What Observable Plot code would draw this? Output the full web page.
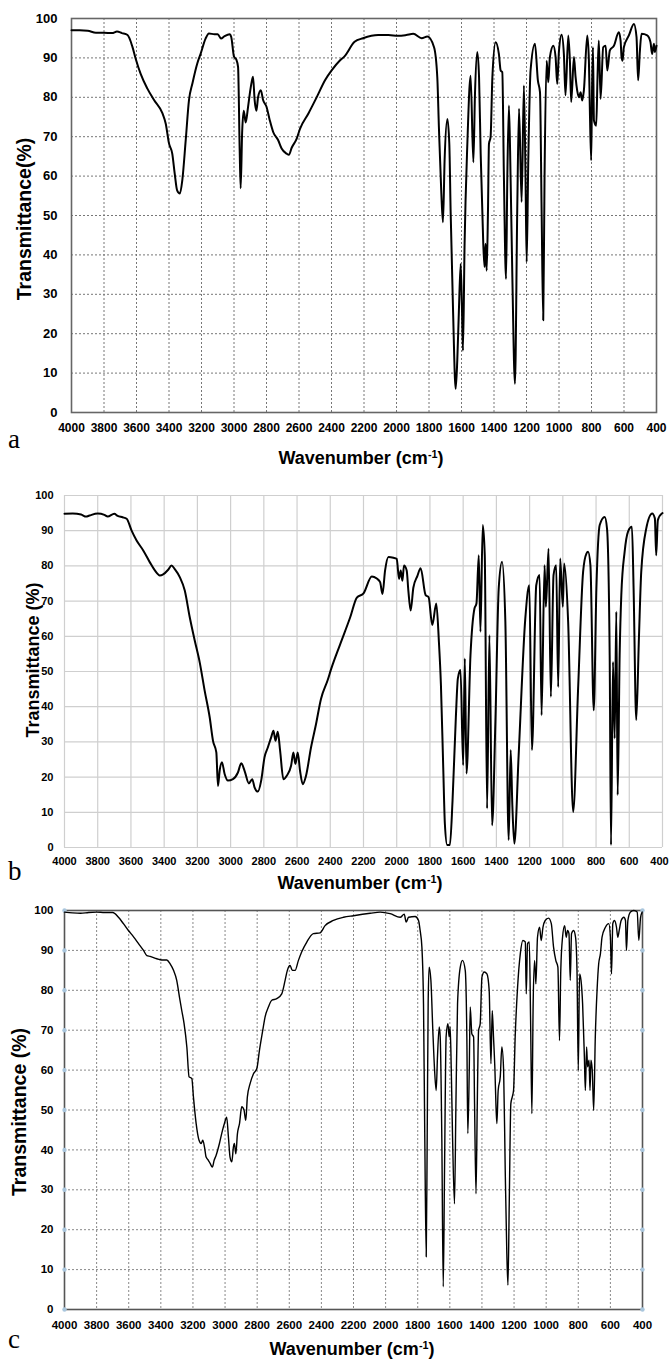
<!DOCTYPE html>
<html>
<head>
<meta charset="utf-8">
<script src="https://cdn.jsdelivr.net/npm/d3@7"></script>
<script src="https://cdn.jsdelivr.net/npm/@observablehq/plot@0.6"></script>
<style>
  html, body { margin: 0; padding: 0; background: #fff; }
  #root { position: relative; width: 670px; height: 1361px; background: #fff; overflow: hidden; }
  .panel { position: absolute; left: 0; }
  .letter { position: absolute; font-family: "Liberation Serif", "Times New Roman", serif; font-size: 27px; line-height: 1; color: #000; }
  .xtitle { position: absolute; font-family: "Liberation Sans", Arial, sans-serif; font-weight: bold; font-size: 18px; line-height: 1; white-space: nowrap; transform: translateX(-50%); color: #000; }
  .xtitle sup { font-size: 0.6em; vertical-align: 0.6em; line-height: 0; }
  .ytitle { position: absolute; font-family: "Liberation Sans", Arial, sans-serif; font-weight: bold; line-height: 1; white-space: nowrap; transform: translate(-50%, -50%) rotate(-90deg); color: #000; }
</style>
</head>
<body>
<div id="root"></div>
<script>
// ---------- tick values ----------
const xTicks = [4000, 3800, 3600, 3400, 3200, 3000, 2800, 2600, 2400, 2200, 2000, 1800, 1600, 1400, 1200, 1000, 800, 600, 400];
const yTicks = [0, 10, 20, 30, 40, 50, 60, 70, 80, 90, 100];

// ---------- spectrum a ----------
const wnA = [4000,3950,3900,3850,3800,3750,3720,3690,3655,3625,3605,3575,3533,3492,3440,3420,3400,3380,3365,3350,3333,3318,3297,3277,3256,3226,3205,3175,3154,3120,3100,3080,3058,3027,3017,3000,2986,2975,2965,2959,2950,2940,2928,2914,2897,2883,2873,2862,2852,2835,2821,2800,2780,2759,2728,2707,2676,2662,2645,2614,2594,2542,2490,2439,2398,2347,2320,2258,2206,2113,2050,1990,1940,1897,1845,1810,1769,1749,1739,1724,1714,1704,1687,1675,1667,1652,1636,1626,1616,1605,1597,1591,1581,1564,1544,1527,1517,1503,1492,1482,1466,1458,1452,1445,1437,1431,1421,1410,1390,1370,1359,1349,1339,1326,1318,1308,1298,1287,1271,1257,1246,1230,1216,1206,1199,1189,1175,1148,1130,1117,1107,1097,1089,1076,1066,1056,1035,1021,1011,1000,984,970,960,943,933,925,908,898,888,877,867,857,847,826,816,810,802,797,791,785,771,763,755,744,728,713,703,687,662,632,621,615,609,601,570,539,523,513,502,492,457,437,427,416,410,400];
const tA = [97.0,97.0,96.9,96.4,96.4,96.3,96.7,96.3,95.8,92.8,89.8,86.0,82.2,79.3,75.9,73.3,68.3,65.7,60.7,56.4,55.6,59.0,69.2,79.3,83.5,88.6,91.1,94.9,96.2,96.0,96.0,94.9,95.5,96.0,95.3,90.3,89.6,87.7,66.5,56.9,71.0,76.6,73.6,77.4,82.5,85.2,79.3,76.6,80.0,81.8,79.3,77.6,74.2,71.2,69.1,67.0,65.7,65.4,67.2,69.5,72.0,75.9,80.1,84.4,86.9,89.4,90.4,94.1,95.0,95.8,95.8,95.6,95.8,96.1,95.0,95.4,92.7,85.1,72.4,55.5,48.3,64.0,74.5,68.2,51.3,25.9,6.0,13.2,25.9,37.7,25.9,15.7,42.8,68.2,85.5,63.5,80.9,91.5,85.1,65.7,42.8,36.9,42.8,36.0,51.3,68.2,69.9,85.1,94.0,91.0,86.8,86.4,59.7,33.9,59.7,77.9,59.7,34.3,7.3,51.3,77.1,53.4,83.0,59.7,38.2,64.0,86.8,93.6,84.3,81.3,51.3,23.4,59.7,89.3,83.8,90.2,93.1,90.2,83.4,91.9,95.9,91.0,80.5,95.7,89.3,78.8,90.2,85.1,81.7,80.0,81.3,79.2,81.7,95.7,89.3,76.6,64.0,80.9,92.7,74.1,72.8,85.1,94.4,79.6,92.7,93.1,86.8,91.9,93.1,96.5,94.4,90.2,89.3,92.7,95.7,98.6,95.3,84.3,91.9,96.1,95.7,94.0,91.0,93.6,91.5,93.1];

// ---------- spectrum b ----------
const wnB = [4000,3950,3900,3870,3850,3800,3760,3740,3700,3680,3650,3626,3596,3566,3526,3486,3456,3426,3406,3376,3356,3336,3306,3276,3246,3216,3186,3156,3126,3106,3086,3076,3066,3052,3036,3016,2986,2956,2936,2916,2890,2870,2856,2836,2816,2796,2776,2756,2742,2730,2716,2702,2682,2662,2636,2622,2610,2596,2582,2566,2546,2516,2486,2456,2416,2394,2340,2280,2240,2200,2150,2120,2100,2086,2070,2050,2020,2000,1986,1976,1966,1956,1940,1930,1916,1900,1876,1856,1826,1808,1786,1762,1746,1734,1720,1710,1696,1680,1664,1644,1632,1616,1600,1590,1580,1556,1532,1520,1506,1496,1482,1470,1456,1442,1426,1406,1386,1366,1346,1326,1314,1304,1292,1266,1226,1202,1186,1160,1140,1128,1110,1102,1086,1072,1056,1040,1028,1016,1000,992,968,938,908,878,858,848,834,814,798,778,748,734,718,710,698,688,678,670,658,648,628,608,584,574,558,542,528,498,462,446,438,428,404,400];
const tB = [94.8,94.9,94.6,94.0,94.3,94.9,94.5,94.0,94.8,94.2,93.8,93.4,90.0,87.2,84.4,81.0,78.7,77.3,77.6,78.9,80.1,79.1,76.8,73.0,65.4,58.8,52.6,44.5,37.0,30.3,27.0,17.5,21.8,24.2,20.9,19.0,19.4,21.3,23.9,21.8,18.2,19.4,17.1,15.9,19.0,25.6,28.4,31.3,33.2,30.3,32.9,27.5,19.4,20.4,23.2,27.0,23.7,27.0,21.8,18.0,20.4,28.4,35.0,42.2,47.5,50.8,57.8,65.4,71.0,72.2,77.0,76.4,75.4,72.0,78.7,82.5,82.3,82.0,76.3,78.7,75.8,80.1,78.7,73.0,67.3,73.8,77.1,79.3,71.7,71.1,63.2,69.3,58.4,46.4,22.7,6.6,0.7,0.7,13.3,37.0,48.0,50.4,23.4,53.7,21.0,54.6,67.9,69.3,83.0,61.3,91.6,83.0,11.1,60.3,6.3,35.7,73.6,81.2,64.1,2.1,27.7,12.0,1.1,26.2,65.0,74.5,27.7,74.5,77.4,37.6,80.2,68.4,84.9,42.8,77.4,80.2,45.6,82.1,68.4,80.7,64.1,10.1,45.2,78.3,83.5,84.0,80.2,39.0,73.6,91.6,93.9,90.6,54.6,0.7,52.7,31.0,67.0,14.9,54.6,71.7,84.0,89.7,91.1,73.6,36.2,59.4,78.3,90.6,94.9,93.5,83.0,93.0,94.9,95.0];

// ---------- spectrum c ----------
const wnC = [4000,3950,3900,3850,3800,3750,3700,3664,3633,3602,3570,3539,3508,3487,3467,3425,3394,3363,3342,3321,3301,3284,3270,3255,3238,3224,3207,3197,3180,3162,3149,3139,3128,3118,3104,3093,3079,3068,3056,3035,3016,3004,2990,2979,2969,2958,2948,2942,2933,2923,2910,2896,2882,2871,2861,2844,2823,2802,2786,2765,2751,2730,2709,2678,2647,2626,2612,2595,2581,2564,2543,2523,2491,2450,2408,2377,2325,2262,2200,2096,2034,1972,1909,1884,1872,1857,1816,1795,1785,1774,1764,1756,1747,1741,1735,1729,1718,1706,1695,1685,1677,1666,1660,1650,1641,1633,1623,1612,1604,1598,1591,1583,1571,1562,1552,1535,1521,1504,1494,1488,1479,1473,1463,1452,1446,1437,1429,1421,1411,1400,1386,1369,1355,1344,1336,1328,1319,1313,1307,1299,1286,1276,1265,1255,1245,1238,1230,1220,1211,1203,1193,1178,1161,1145,1130,1124,1116,1105,1097,1089,1081,1072,1064,1054,1041,1031,1020,1006,985,968,954,940,927,917,909,898,885,875,867,858,850,842,829,817,808,800,792,783,773,762,756,748,742,733,727,721,713,704,694,683,673,662,652,631,610,600,593,585,575,562,554,545,533,516,506,500,491,475,454,433,423,412,402];
const tC = [99.6,99.4,99.3,99.5,99.6,99.5,99.5,98.3,96.7,95.0,93.4,91.7,90.0,88.7,88.5,87.9,87.6,87.6,86.6,85.0,82.5,78.3,75.0,71.6,65.8,58.3,57.9,53.3,46.6,42.4,41.6,42.4,40.7,38.2,37.4,36.6,35.7,37.4,38.6,41.6,44.9,46.6,48.2,43.2,38.2,37.0,40.7,41.6,39.0,44.0,46.6,50.8,50.0,47.4,53.3,56.6,59.1,60.4,64.9,70.0,73.3,75.8,77.5,77.9,79.1,82.5,85.0,86.2,85.0,85.0,87.5,89.6,92.1,94.2,94.4,96.2,97.5,98.3,98.7,99.3,99.6,99.2,98.3,99.1,97.1,98.3,98.5,97.5,95.0,90.8,76.6,43.2,13.2,43.2,76.6,85.8,82.5,70.0,60.0,54.9,63.3,70.8,68.3,43.2,5.7,35.1,68.5,71.6,68.3,70.8,60.0,43.2,26.5,51.6,76.6,85.8,87.5,85.0,68.3,44.1,60.0,75.8,69.1,68.3,51.6,29.0,51.6,69.9,71.6,83.3,84.6,84.1,80.0,61.6,74.9,68.3,59.9,51.6,46.6,54.9,58.3,65.8,60.0,34.9,14.0,6.1,26.5,51.6,53.3,55.0,68.3,80.8,89.2,92.5,92.1,79.1,91.7,92.1,72.4,49.1,76.6,87.5,81.6,93.3,95.8,92.5,95.8,97.5,98.1,96.7,90.8,87.5,85.8,67.4,85.0,93.3,96.2,93.3,95.0,94.2,82.5,94.2,95.0,93.3,85.0,59.9,84.1,82.5,76.6,63.3,54.9,65.8,60.8,62.5,54.9,62.5,60.0,49.9,68.3,80.0,86.6,89.2,93.3,95.8,96.7,93.3,84.1,96.7,97.5,95.8,93.3,95.0,97.5,98.3,97.5,90.0,97.5,99.6,100.0,99.6,92.5,98.3,99.6];

const rows = (ws, ts) => ws.map((w, i) => ({w, t: ts[i]}));
const dataA = rows(wnA, tA), dataB = rows(wnB, tB), dataC = rows(wnC, tC);

const root = document.getElementById("root");
const FONT = "'Liberation Sans', Arial, sans-serif";

function panel(cfg) {
  const marks = [];
  marks.push(Plot.ruleX(xTicks, {x: d => d, stroke: cfg.grid, strokeWidth: cfg.gridWidth, strokeDasharray: cfg.dash}));
  marks.push(Plot.ruleY(yTicks, {y: d => d, stroke: cfg.grid, strokeWidth: cfg.gridWidth, strokeDasharray: cfg.dash}));
  if (cfg.frame) marks.push(Plot.frame({stroke: cfg.frame, strokeWidth: cfg.frameWidth}));
  if (cfg.dots) {
    marks.push(Plot.dot(yTicks, {x: 4000, y: d => d, r: 2.2, fill: cfg.dots, stroke: "none"}));
    marks.push(Plot.dot(yTicks, {x: 400, y: d => d, r: 2.2, fill: cfg.dots, stroke: "none"}));
  }
  marks.push(Plot.line(cfg.data, {x: "w", y: "t", stroke: "#000", strokeWidth: cfg.lineWidth, curve: "monotone-x"}));
  const svg = Plot.plot({
    width: 670, height: cfg.height,
    marginLeft: cfg.ml, marginRight: cfg.mr, marginTop: cfg.mt, marginBottom: cfg.mb,
    x: {domain: [4000, 400], ticks: xTicks, tickFormat: d => String(d), tickSize: 0, tickPadding: cfg.xPad, label: null},
    y: {domain: [0, 100], ticks: yTicks, tickFormat: d => String(d), tickSize: 0, tickPadding: cfg.yPad, label: null},
    style: {fontFamily: FONT, fontWeight: "bold", fontSize: cfg.xFont + "px", color: "#000", background: "transparent", overflow: "visible"},
    marks
  });
  svg.classList.add("panel");
  svg.style.position = "absolute";
  svg.style.top = cfg.top + "px";
  svg.style.left = "0px";
  svg.querySelectorAll('g[aria-label^="y-axis"]').forEach(g => { g.setAttribute("font-size", cfg.yFont); g.querySelectorAll("text").forEach(t => t.style.fontSize = cfg.yFont + "px"); });
  svg.querySelectorAll('g[aria-label^="x-axis"]').forEach(g => {
    g.setAttribute("font-size", cfg.xFont);
    const texts = g.querySelectorAll("text");
    texts.forEach(t => t.style.fontSize = cfg.xFont + "px");
    if (cfg.lastShift && texts.length) {
      // nudge the last ("400") label inward so it stays inside the page
      const last = texts[texts.length - 1];
      last.setAttribute("dx", String(cfg.lastShift));
    }
  });
  root.appendChild(svg);
}

panel({data: dataA, top: 0, height: 440, ml: 71, mr: 14, mt: 18, mb: 28,
  grid: "#777", gridWidth: 1, dash: "2,2", frame: "#666", frameWidth: 1.6,
  lineWidth: 2, xPad: 11, yPad: 14, xFont: 12, yFont: 13});
panel({data: dataB, top: 480, height: 390, ml: 64, mr: 8, mt: 15, mb: 23,
  grid: "#cfcfcf", gridWidth: 1.2, dash: null, frame: null,
  lineWidth: 2, xPad: 10, yPad: 11, xFont: 11, yFont: 11, lastShift: -3});
panel({data: dataC, top: 895, height: 440, ml: 64, mr: 28, mt: 15, mb: 26,
  grid: "#888", gridWidth: 1, dash: "2,2", frame: "#555", frameWidth: 1.6, dots: "#a9c6dd",
  lineWidth: 1.4, xPad: 11, yPad: 11, xFont: 11.5, yFont: 11.5});

function addDiv(cls, html, style) {
  const d = document.createElement("div");
  d.className = cls;
  d.innerHTML = html;
  Object.assign(d.style, style);
  root.appendChild(d);
}
// panel letters
addDiv("letter", "a", {left: "8px", top: "426px"});
addDiv("letter", "b", {left: "8px", top: "858px"});
addDiv("letter", "c", {left: "8px", top: "1326px"});
// x titles
addDiv("xtitle", "Wavenumber (cm<sup>-1</sup>)", {left: "361px", top: "449px"});
addDiv("xtitle", "Wavenumber (cm<sup>-1</sup>)", {left: "360px", top: "874px"});
addDiv("xtitle", "Wavenumber (cm<sup>-1</sup>)", {left: "352px", top: "1340px"});
// y titles
addDiv("ytitle", "Transmittance(%)", {left: "25px", top: "219px", fontSize: "19.5px"});
addDiv("ytitle", "Transmittance (%)", {left: "33px", top: "660px", fontSize: "18px"});
addDiv("ytitle", "Transmittance (%)", {left: "20px", top: "1112px", fontSize: "19.5px"});
</script>
</body>
</html>
